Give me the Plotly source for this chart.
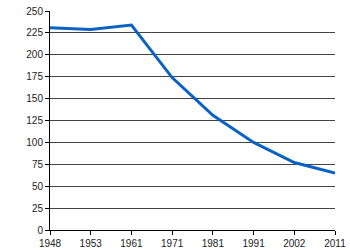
import plotly.graph_objects as go

years = ["1948", "1953", "1961", "1971", "1981", "1991", "2002", "2011"]
values = [231, 229, 234, 174, 131, 100, 77, 65]
y_ticks = [0, 25, 50, 75, 100, 125, 150, 175, 200, 225, 250]

fig = go.Figure()
fig.add_trace(go.Scatter(
    x=years, y=values, mode="lines",
    line=dict(color="#0a62c4", width=3),
    hoverinfo="skip",
))

fig.update_layout(
    width=350, height=250,
    margin=dict(l=50, r=15, t=11, b=20, autoexpand=False),
    paper_bgcolor="white", plot_bgcolor="white",
    showlegend=False,
    font=dict(family="Liberation Sans, Arial, sans-serif", size=10, color="#222222"),
)
fig.update_xaxes(
    type="category", range=[0, len(years) - 1],
    showgrid=False, showline=True, linecolor="black", linewidth=1,
    ticks="outside", ticklen=4, tickcolor="black", tickwidth=1,
    zeroline=False, automargin=False,
)
fig.update_yaxes(
    range=[0, 250], tickvals=y_ticks,
    showgrid=True, gridcolor="#444444", gridwidth=1,
    showline=True, linecolor="black", linewidth=1,
    ticks="outside", ticklen=4, tickcolor="black", tickwidth=1,
    zeroline=False, automargin=False,
)

fig.write_html("out.html")
